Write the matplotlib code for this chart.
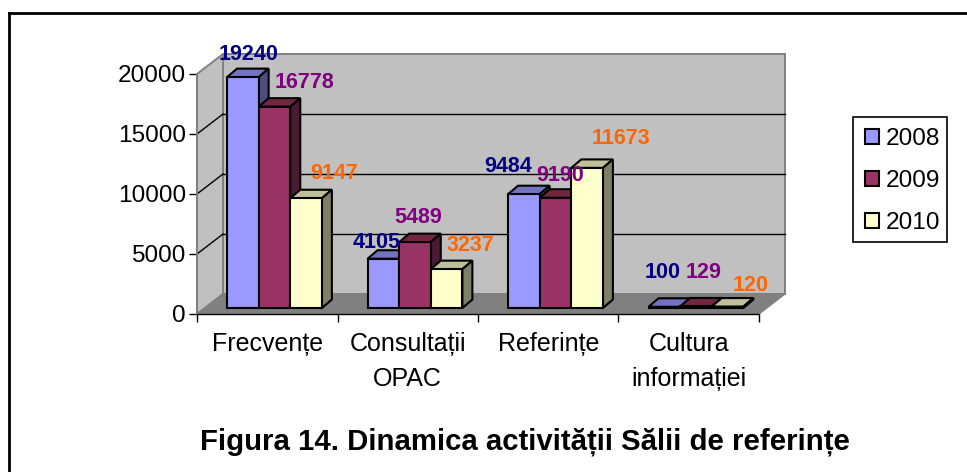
import matplotlib
matplotlib.use('Agg')
import matplotlib.pyplot as plt
from matplotlib.lines import Line2D
from matplotlib.patches import Polygon, Rectangle
from matplotlib.transforms import Affine2D

# data
categories = ['Frecvențe', 'Consultații\nOPAC', 'Referințe', 'Cultura\ninformației']
years = ['2008', '2009', '2010']
values_2008 = [19240, 4105, 9484, 100]
values_2009 = [16778, 5489, 9190, 129]
values_2010 = [9147, 3237, 11673, 120]
y_ticks = [0, 5000, 10000, 15000, 20000]

# style
bar_colors = ['#9999FF', '#993366', '#FFFFCC']
top_colors = ['#7373BF', '#732640', '#BFBF99']
side_colors = ['#4D4D80', '#4D1A33', '#808066']
label_colors = ['#000080', '#800080', '#FF6600']

# label offsets from the top centre of each bar, pixels
offsets_2008 = [(6, 23), (-7, 16), (-16, 28), (-2, 34)]
offsets_2009 = [(30, 24), (3, 25), (5, 22), (8, 34)]
offsets_2010 = [(28, 25), (24, 24), (34, 29), (23, 21)]

W, H = 967, 472
plt.rcParams['font.family'] = ['Liberation Sans', 'DejaVu Sans']

fig = plt.figure(figsize=(W / 100, H / 100), dpi=100)

# front plane of the 3d box
left, right, top, bottom = 197, 759, 74, 314
ax = fig.add_axes([left / W, 1 - bottom / H, (right - left) / W, (bottom - top) / H])
ax.set_xlim(0, 4)
ax.set_ylim(0, 20000)
ax.patch.set_visible(False)
for s in ax.spines.values():
    s.set_visible(False)


def shifted(dx, dy):
    # pixel shift on top of data coords, dy is upward
    return ax.transData + Affine2D().translate(dx, dy)


depth_x, depth_y = 26, 20
back = shifted(depth_x, depth_y)

# outer frame, only top and left are inside the picture
fig.add_artist(Line2D([9 / W, 1], [1 - 12.5 / H, 1 - 12.5 / H], color='black', lw=2))
fig.add_artist(Line2D([9 / W, 9 / W], [0, 1 - 12.5 / H], color='black', lw=2))

# walls and floor
wall_edge = '#808080'
ax.add_patch(Rectangle((0, 0), 4, 20000, transform=back, fc='#C0C0C0', ec=wall_edge, lw=1.4, clip_on=False, zorder=1))
ax.add_patch(Polygon([(left, H - bottom), (left + depth_x, H - bottom + depth_y),
                      (left + depth_x, H - top + depth_y), (left, H - top)],
                     transform=None, fc='#C0C0C0', ec=wall_edge, lw=1.4, clip_on=False, zorder=1))
ax.add_patch(Polygon([(left, H - bottom), (left + depth_x, H - bottom + depth_y),
                      (right + depth_x, H - bottom + depth_y), (right, H - bottom)],
                     transform=None, fc='#808080', ec='#808080', lw=1, clip_on=False, zorder=2))

# gridlines on back and side walls
for v in y_ticks[1:-1]:
    ax.plot([0, 4], [v, v], color='black', lw=1, transform=back, clip_on=False, zorder=3)
    p0 = ax.transData.transform((0, v))
    ax.plot([p0[0], p0[0] + depth_x], [p0[1], p0[1] + depth_y], color='black', lw=1,
            transform=None, clip_on=False, zorder=3)

# bars
bar_w = 0.225
gap = 0.164
bar_dx, bar_dy = 7, 6
side_x, side_y = 10, 8.5
series = [values_2008, values_2009, values_2010]
offsets = [offsets_2008, offsets_2009, offsets_2010]
base = shifted(bar_dx, bar_dy)
z = 5
for c in range(len(categories)):
    for s in range(len(series)):
        v = series[s][c]
        x0 = c + gap + s * bar_w
        x1 = x0 + bar_w
        ax.bar(x0, v, bar_w, align='edge', color=bar_colors[s], edgecolor='black', lw=1.5,
               transform=base, clip_on=False, zorder=z + 1)
        # top and side faces in pixels
        (px0, py0), (px1, py1) = base.transform([(x0, 0), (x1, v)])
        ax.add_patch(Polygon([(px0, py1), (px0 + side_x, py1 + side_y), (px1 + side_x, py1 + side_y), (px1, py1)],
                             transform=None, fc=top_colors[s], ec='black', lw=1.5, clip_on=False, zorder=z))
        ax.add_patch(Polygon([(px1, py0), (px1 + side_x, py0 + side_y), (px1 + side_x, py1 + side_y), (px1, py1)],
                             transform=None, fc=side_colors[s], ec='black', lw=1.5, clip_on=False, zorder=z))
        z += 2

# value labels above everything
for c in range(len(categories)):
    for s in range(len(series)):
        v = series[s][c]
        ax.annotate(str(v), xy=(c + gap + (s + 0.5) * bar_w, v), xycoords=base,
                    xytext=offsets[s][c], textcoords='offset pixels',
                    ha='center', va='center', fontsize=15.5, fontweight='bold',
                    color=label_colors[s], annotation_clip=False, zorder=100)

# axes ticks
ax.set_yticks(y_ticks)
ax.tick_params(axis='y', length=6, width=1, labelsize=17.6, pad=2, color='black')
ax.set_xticks(range(5))
ax.set_xticklabels([])
ax.tick_params(axis='x', which='major', length=6, width=1)
ax.plot([0, 0], [0, 20000], color='#808080', lw=1.4, zorder=4, clip_on=False)
ax.plot([0, 4], [0, 0], color='black', lw=1, zorder=4, clip_on=False)
ax.set_xticks([i + 0.5 for i in range(4)], minor=True)
ax.set_xticklabels(categories, minor=True, fontsize=18, linespacing=1.56)
ax.tick_params(axis='x', which='minor', length=0, pad=13)

# legend, frame drawn apart because its width is narrower than the automatic one
fig.add_artist(Rectangle((853 / W, 1 - 242 / H), 94 / W, 125 / H, transform=fig.transFigure,
                         fc='white', ec='black', lw=1.2))
handles = [Rectangle((0, 0), 1, 1, fc=bar_colors[i], ec='black', lw=1.5) for i in range(3)]
leg = fig.legend(handles, years, loc='upper left', bbox_to_anchor=(852.5 / W, 1 - 116 / H),
                 borderaxespad=0, fontsize=17.6, frameon=False,
                 handlelength=0.58, handleheight=0.58, handletextpad=0.26, labelspacing=0.82,
                 borderpad=0.5)
leg.set_zorder(10)

# title
fig.text(525 / W, 1 - 442 / H, 'Figura 14. Dinamica activității Sălii de referințe',
         ha='center', va='center', fontsize=21.2, fontweight='bold')

fig.savefig('out.png', dpi=100)
